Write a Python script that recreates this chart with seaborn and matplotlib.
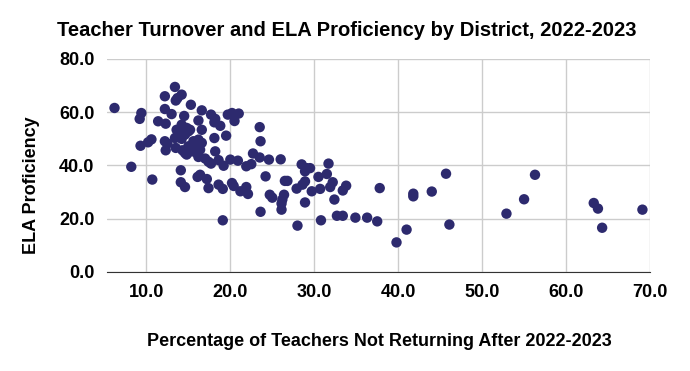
import pandas as pd
import matplotlib.pyplot as plt
import seaborn as sns

# % of teachers not returning after 2022-2023, per district
turnover = [
    6.2, 8.2, 9.4, 9.2, 9.3, 10.2, 10.6, 10.7, 11.4, 12.2,
    12.2, 12.3, 12.2, 12.5, 12.3, 13.0, 13.4, 14.2, 13.7, 13.5,
    14.5, 14.2, 13.6, 14.8, 15.2, 13.8, 14.6, 13.4, 14.2, 13.5,
    14.3, 14.6, 15.3, 14.1, 14.1, 14.6, 15.3, 15.0, 16.6, 16.2,
    17.7, 18.2, 18.1, 18.8, 16.6, 18.1, 19.5, 16.2, 15.6, 16.6,
    15.8, 15.0, 16.4, 15.4, 16.0, 14.8, 16.2, 18.2, 17.0, 17.4,
    17.7, 18.6, 19.2, 20.0, 20.9, 16.4, 16.1, 17.2, 17.4, 18.6,
    19.1, 19.1, 19.7, 20.2, 21.0, 20.5, 23.5, 23.6, 22.7, 23.5,
    24.6, 26.0, 21.9, 22.5, 20.2, 20.4, 21.2, 21.9, 22.1, 24.2,
    24.7, 25.0, 23.6, 26.5, 26.8, 26.4, 26.2, 26.1, 26.1, 27.9,
    28.0, 28.5, 29.1, 29.5, 28.9, 31.7, 30.5, 31.5, 28.9, 28.6,
    32.2, 31.9, 33.8, 33.4, 29.7, 30.7, 32.4, 28.9, 37.8, 41.8,
    41.8, 44.0, 45.7, 46.1, 30.8, 32.7, 33.4, 34.9, 36.3, 37.5,
    39.8, 41.0, 56.3, 55.0, 52.9, 63.3, 63.8, 64.3, 69.1,
]

# ELA proficiency (%), same districts
ela = [
    61.6, 39.5, 59.7, 57.5, 47.4, 48.7, 49.8, 34.7, 56.6, 66.0,
    61.2, 55.7, 49.1, 48.2, 45.7, 59.3, 69.5, 66.6, 65.3, 64.4,
    58.6, 55.3, 53.4, 54.1, 53.4, 52.2, 51.6, 50.3, 50.0, 46.6,
    45.7, 44.7, 46.6, 38.2, 33.7, 31.9, 62.8, 52.8, 60.7, 56.9,
    59.1, 57.5, 56.2, 54.9, 53.4, 50.3, 51.2, 49.7, 49.1, 48.5,
    47.2, 47.2, 45.9, 45.3, 44.7, 44.1, 43.2, 45.3, 42.6, 41.4,
    40.7, 42.0, 39.9, 42.2, 41.8, 36.5, 35.7, 34.9, 31.5, 32.8,
    31.2, 19.4, 59.1, 59.7, 59.5, 56.7, 54.4, 49.1, 44.5, 43.0,
    42.2, 42.3, 39.7, 40.5, 33.4, 32.3, 30.3, 31.9, 29.3, 35.9,
    29.0, 27.9, 22.6, 34.2, 34.2, 29.0, 27.2, 25.7, 23.4, 31.3,
    17.4, 40.4, 39.0, 39.0, 37.8, 40.7, 35.7, 36.8, 34.0, 32.8,
    33.7, 31.9, 32.4, 30.6, 30.3, 31.2, 27.2, 26.1, 31.5, 29.4,
    28.4, 30.2, 36.9, 17.8, 19.4, 21.1, 21.1, 20.4, 20.4, 19.0,
    11.1, 15.9, 36.5, 27.3, 21.9, 25.9, 23.8, 16.6, 23.4,
]

x_ticks = [10, 20, 30, 40, 50, 60, 70]
y_ticks = [0, 20, 40, 60, 80]

df = pd.DataFrame({'turnover': turnover, 'ela': ela})

sns.set_style('white')
plt.rcParams['font.family'] = ['Liberation Sans', 'DejaVu Sans']

fig = plt.figure(figsize=(6.9, 3.71), dpi=100)
ax = fig.add_axes([0.155, 0.267, 0.787, 0.574])

sns.scatterplot(data=df, x='turnover', y='ela', ax=ax, color='#2d2a6e',
                s=56, edgecolor='none', zorder=3)

ax.set_xlim(5.3, 70)
ax.set_ylim(0, 80)
ax.set_xticks(x_ticks)
ax.set_yticks(y_ticks)
ax.set_xticklabels([f'{t:.1f}' for t in x_ticks], fontsize=13, fontweight='bold')
ax.set_yticklabels([f'{t:.1f}' for t in y_ticks], fontsize=13, fontweight='bold')
ax.tick_params(length=0, pad=9, labelcolor='black')
ax.grid(True, color='#cccccc', linewidth=1)
for side in ['top', 'right', 'left']:
    ax.spines[side].set_visible(False)
ax.spines['bottom'].set_color('#333333')
ax.spines['bottom'].set_zorder(4)
ax.set_xlabel('')
ax.set_ylabel('')

fig.text(0.502, 0.918, 'Teacher Turnover and ELA Proficiency by District, 2022-2023',
         ha='center', va='center', fontsize=14.5, fontweight='bold', color='black')
fig.text(0.55, 0.08, 'Percentage of Teachers Not Returning After 2022-2023',
         ha='center', va='center', fontsize=13, fontweight='bold', color='black')
fig.text(0.045, 0.5, 'ELA Proficiency', rotation=90,
         ha='center', va='center', fontsize=13, fontweight='bold', color='black')

fig.savefig('out.png', dpi=100)
